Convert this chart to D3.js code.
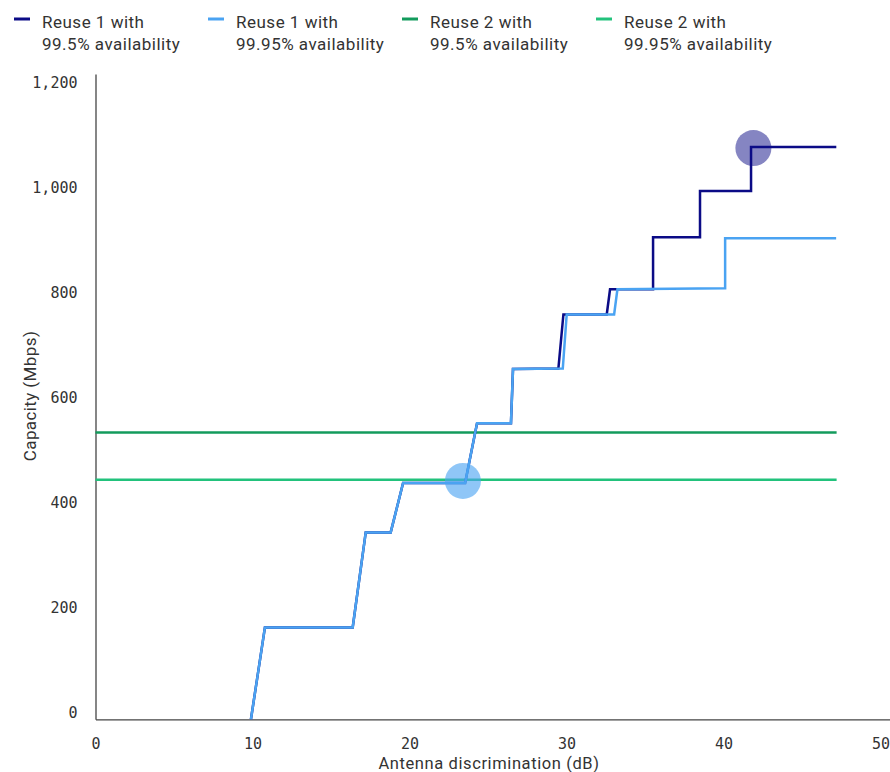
<!DOCTYPE html>
<html><head><meta charset="utf-8">
<script src="https://cdn.jsdelivr.net/npm/d3@7"></script>
<style>
html,body{margin:0;padding:0;background:#fff;}
svg{display:block;}
</style></head>
<body>
<svg id="chart" width="890" height="772"></svg>
<script>
// ---- data ----
const seriesNames = ["Reuse 1 with|99.5% availability", "Reuse 1 with|99.95% availability", "Reuse 2 with|99.5% availability", "Reuse 2 with|99.95% availability"];
const seriesColors = ["#0b0b86", "#4aa3f2", "#139b5c", "#22c27c"];

const reuse1_995_x = [9.9, 10.79, 16.38, 17.21, 18.8, 19.59, 23.54, 24.3, 26.46, 26.59, 29.48, 29.8, 32.56, 32.77, 35.51, 35.51, 38.5, 38.5, 41.75, 41.75, 47.18];
const reuse1_995_y = [0, 175, 175, 356, 356, 450, 450, 564, 564, 667, 668, 771, 771, 819, 819, 918, 918, 1006, 1006, 1090, 1090];

const reuse1_9995_x = [9.9, 10.79, 16.38, 17.21, 18.8, 19.59, 23.54, 24.3, 26.46, 26.59, 29.76, 30.01, 33.03, 33.24, 40.1, 40.1, 47.17];
const reuse1_9995_y = [0, 175, 175, 356, 356, 450, 450, 564, 564, 667, 668, 771, 771, 819, 821, 916, 916];

const reuse2_x = [0, 47.2];
const reuse2_995_y = [546, 546];
const reuse2_9995_y = [456, 456];

const markerX = [41.9, 23.4];
const markerY = [1088, 454];

const xTicks = [0, 10, 20, 30, 40, 50];
const yTicks = [0, 200, 400, 600, 800, 1000, 1200];
const xTitle = "Antenna discrimination (dB)";
const yTitle = "Capacity (Mbps)";

// ---- chart ----
const svg = d3.select("#chart");
const x = d3.scaleLinear().domain([0, 50.6]).range([95.5, 890]);
const y = d3.scaleLinear().domain([0, 1229]).range([719.3, 74]);

const tickFont = "'DejaVu Sans Mono', monospace";
const textFont = "Roboto, 'Noto Sans', sans-serif";

// axes
const xAxis = d3.axisBottom(x).tickValues(xTicks).tickSize(0).tickPadding(0).tickFormat(d3.format("d"));
const gx = svg.append("g").attr("transform", `translate(0,${y(0)})`).call(xAxis);
gx.select(".domain").attr("stroke", "#444").attr("stroke-width", 1.3);
gx.selectAll("text").attr("font-family", tickFont).attr("font-size", 15).attr("fill", "#333")
  .attr("dy", null).attr("y", 30);

const yAxis = d3.axisLeft(y).tickValues(yTicks).tickSize(0).tickPadding(18).tickFormat(d3.format(","));
const gy = svg.append("g").attr("transform", `translate(${x(0)},0)`).call(yAxis);
gy.select(".domain").attr("stroke", "#444").attr("stroke-width", 1.3);
gy.selectAll("text").attr("font-family", tickFont).attr("font-size", 15).attr("fill", "#333")
  .attr("dy", "-0.1em");

// titles
svg.append("text").attr("x", 489).attr("y", 769).attr("text-anchor", "middle")
  .attr("font-family", textFont).attr("font-size", 16.5).attr("letter-spacing", 0.6).attr("fill", "#333").text(xTitle);
svg.append("text").attr("transform", "translate(36,396) rotate(-90)").attr("text-anchor", "middle")
  .attr("font-family", textFont).attr("font-size", 17).attr("letter-spacing", 0.4).attr("fill", "#333").text(yTitle);

const line = d3.line().x(d => x(d[0])).y(d => y(d[1]));
const zip = (xs, ys) => xs.map((v, i) => [v, ys[i]]);

svg.append("path").datum(zip(reuse2_x, reuse2_995_y)).attr("d", line)
  .attr("fill", "none").attr("stroke", seriesColors[2]).attr("stroke-width", 2.5);
svg.append("path").datum(zip(reuse2_x, reuse2_9995_y)).attr("d", line)
  .attr("fill", "none").attr("stroke", seriesColors[3]).attr("stroke-width", 2.5);
svg.append("path").datum(zip(reuse1_995_x, reuse1_995_y)).attr("d", line)
  .attr("fill", "none").attr("stroke", seriesColors[0]).attr("stroke-width", 2.5).attr("stroke-linejoin", "miter");
svg.append("path").datum(zip(reuse1_9995_x, reuse1_9995_y)).attr("d", line)
  .attr("fill", "none").attr("stroke", seriesColors[1]).attr("stroke-width", 2.5).attr("stroke-linejoin", "miter");

// markers
const markerColors = [seriesColors[0], seriesColors[1]];
svg.selectAll("circle.marker").data(zip(markerX, markerY)).enter().append("circle")
  .attr("class", "marker")
  .attr("cx", d => x(d[0])).attr("cy", d => y(d[1])).attr("r", 18)
  .attr("fill", (d, i) => markerColors[i]).attr("fill-opacity", (d, i) => i === 0 ? 0.5 : 0.62);

// legend
const legend = svg.append("g");
seriesNames.forEach((name, i) => {
  const gx0 = 14 + i * 194;
  const g = legend.append("g").attr("transform", `translate(${gx0},0)`);
  g.append("line").attr("x1", 0).attr("x2", 16).attr("y1", 19).attr("y2", 19)
    .attr("stroke", seriesColors[i]).attr("stroke-width", 3);
  const parts = name.split("|");
  parts.forEach((p, j) => {
    g.append("text").attr("x", 28).attr("y", 28 + j * 22)
      .attr("font-family", textFont).attr("font-size", 17).attr("letter-spacing", 0.5).attr("fill", "#333").text(p);
  });
});
</script>
</body></html>
